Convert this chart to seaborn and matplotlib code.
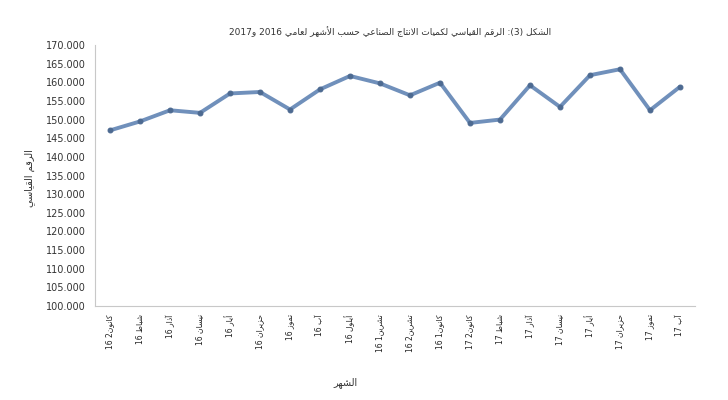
import re
import pandas as pd
import matplotlib
matplotlib.use('Agg')
import matplotlib.pyplot as plt
import seaborn as sns


# Arabic presentation forms: (isolated codepoint, number of forms)
FORMS = {
    'ا': (0xFE8D, 2), 'أ': (0xFE83, 2), 'إ': (0xFE87, 2), 'آ': (0xFE81, 2),
    'ب': (0xFE8F, 4), 'ة': (0xFE93, 2), 'ت': (0xFE95, 4), 'ث': (0xFE99, 4),
    'ج': (0xFE9D, 4), 'ح': (0xFEA1, 4), 'خ': (0xFEA5, 4), 'د': (0xFEA9, 2),
    'ذ': (0xFEAB, 2), 'ر': (0xFEAD, 2), 'ز': (0xFEAF, 2), 'س': (0xFEB1, 4),
    'ش': (0xFEB5, 4), 'ص': (0xFEB9, 4), 'ض': (0xFEBD, 4), 'ط': (0xFEC1, 4),
    'ظ': (0xFEC5, 4), 'ع': (0xFEC9, 4), 'غ': (0xFECD, 4), 'ف': (0xFED1, 4),
    'ق': (0xFED5, 4), 'ك': (0xFED9, 4), 'ل': (0xFEDD, 4), 'م': (0xFEE1, 4),
    'ن': (0xFEE5, 4), 'ه': (0xFEE9, 4), 'و': (0xFEED, 2), 'ى': (0xFEEF, 2),
    'ي': (0xFEF1, 4), 'ئ': (0xFE89, 4), 'ؤ': (0xFE85, 2),
}
LAM_ALEF = {'ا': 0xFEFB, 'أ': 0xFEF7, 'إ': 0xFEF9, 'آ': 0xFEF5}


def shape(text):
    # matplotlib has no bidi/shaping, so build the visual string by hand
    tokens = []
    i = 0
    while i < len(text):
        c = text[i]
        if c == 'ل' and i + 1 < len(text) and text[i + 1] in LAM_ALEF:
            tokens.append(('LA', text[i + 1]))
            i += 2
        else:
            tokens.append(('C', c))
            i += 1

    def joins_next(tok):
        kind, c = tok
        return kind == 'C' and c in FORMS and FORMS[c][1] == 4

    def joins_prev(tok):
        kind, c = tok
        return kind == 'LA' or c in FORMS

    res = []
    for k, tok in enumerate(tokens):
        prev = tokens[k - 1] if k > 0 else None
        nxt = tokens[k + 1] if k + 1 < len(tokens) else None
        a = prev is not None and joins_next(prev) and joins_prev(tok)
        b = nxt is not None and joins_next(tok) and joins_prev(nxt)
        kind, c = tok
        if kind == 'LA':
            res.append(chr(LAM_ALEF[c] + (1 if a else 0)))
        elif c in FORMS:
            base, n = FORMS[c]
            off = 3 if (a and b) else 2 if b else 1 if a else 0
            res.append(chr(base + off))
        else:
            res.append(c)
    s = ''.join(res)[::-1]
    s = re.sub(r'[0-9][0-9.,]*', lambda m: m.group(0)[::-1], s)
    return s.translate(str.maketrans('()', ')('))


# Data
months = ['كانون2', 'شباط', 'آذار', 'نيسان', 'أيار', 'حزيران', 'تموز', 'آب',
          'أيلول', 'تشرين1', 'تشرين2', 'كانون1',
          'كانون2', 'شباط', 'آذار', 'نيسان', 'أيار', 'حزيران', 'تموز', 'آب']
years = ['16'] * 12 + ['17'] * 8
index_values = [147.1, 149.5, 152.5, 151.8, 157.0, 157.4, 152.7, 158.1, 161.7, 159.7,
                156.5, 159.9, 149.1, 150.0, 159.2, 153.4, 161.9, 163.5, 152.5, 158.8]
y_ticks = [100, 105, 110, 115, 120, 125, 130, 135, 140, 145, 150, 155, 160, 165, 170]

title = 'الشكل (3): الرقم القياسي لكميات الانتاج الصناعي حسب الأشهر لعامي 2016 و2017'
y_label = 'الرقم القياسي'
x_label = 'الشهر'

df = pd.DataFrame({
    'pos': range(len(index_values)),
    'label': [shape(f'{m} {y}') for m, y in zip(months, years)],
    'value': index_values,
})

sns.set_style('white')
plt.rcParams['font.family'] = ['DejaVu Sans']

fig = plt.figure(figsize=(7.28, 4.0), dpi=100)
ax = fig.add_axes([95 / 728, 1 - 306 / 400, 600 / 728, 261 / 400])

sns.lineplot(data=df, x='pos', y='value', ax=ax, color='#7090bb', linewidth=2.8,
             marker='o', markersize=3.5, markerfacecolor='#4d6a91',
             markeredgecolor='#4d6a91')

ax.set_xlim(-0.5, len(index_values) - 0.5)
ax.set_ylim(100, 170)
ax.set_yticks(y_ticks)
ax.set_yticklabels([f'{v:.3f}' for v in y_ticks], fontsize=7, color='#333333')
ax.set_xticks(df['pos'])
ax.set_xticklabels(df['label'], rotation=90, fontsize=5.5, color='#222222')
ax.tick_params(axis='y', length=3, color='#bfbfbf', direction='out')
ax.tick_params(axis='x', length=0, pad=6)

for side in ['top', 'right']:
    ax.spines[side].set_visible(False)
for side in ['left', 'bottom']:
    ax.spines[side].set_color('#c8c8c8')
    ax.spines[side].set_linewidth(0.8)

ax.set_xlabel('')
ax.set_ylabel('')
fig.text(390 / 728, 1 - 32 / 400, shape(title), ha='center', va='center',
         fontsize=6.5, color='#333333')
fig.text(30 / 728, 1 - 178 / 400, shape(y_label), ha='center', va='center',
         rotation=90, fontsize=7, color='#333333')
fig.text(345 / 728, 1 - 383 / 400, shape(x_label), ha='center', va='center',
         fontsize=7, color='#333333')

fig.savefig('out.png', dpi=100)
